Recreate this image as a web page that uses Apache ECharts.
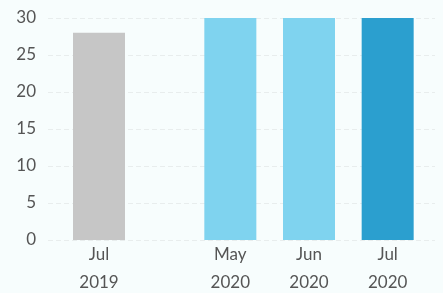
<!DOCTYPE html>
<html>
<head>
<meta charset="utf-8">
<script src="https://cdn.jsdelivr.net/npm/echarts@6/dist/echarts.min.js"></script>
<style>
  html, body { margin: 0; padding: 0; background: #f7fdfd; }
  #chart { width: 443px; height: 293px; }
</style>
</head>
<body>
<div id="chart"></div>
<script>
const lastYearMonths = ['Jul\n2019'];
const lastYearValues = [28];
const thisYearMonths = ['May\n2020', 'Jun\n2020', 'Jul\n2020'];
const thisYearValues = [30, 30, 30];
const yTicks = [0, 5, 10, 15, 20, 25, 30];

const thisYearColors = ['#7fd3ef', '#7fd3ef', '#2b9fcf'];

const chart = echarts.init(document.getElementById('chart'));

const labelStyle = {
  color: '#555',
  fontFamily: 'Lato',
  fontSize: 17,
  lineHeight: 28
};

const yBase = {
  type: 'value',
  min: yTicks[0],
  max: yTicks[yTicks.length - 1],
  interval: 5,
  axisLine: { show: false },
  axisTick: { show: false }
};

const xBase = {
  type: 'category',
  axisLine: { show: false },
  axisTick: { show: false },
  axisLabel: Object.assign({ margin: 1, interval: 0 }, labelStyle)
};

// same vertical extent for all three grids; v6 would otherwise shrink them to fit labels
const gridBox = { top: 18, bottom: 53, outerBoundsMode: 'none', containLabel: false };

const option = {
  backgroundColor: '#f7fdfd',
  animation: false,
  grid: [
    // gridlines + y labels across the whole plot
    Object.assign({ left: 48, right: 8 }, gridBox),
    // 2019 bar
    Object.assign({ left: 60, width: 78 }, gridBox),
    // 2020 bars
    Object.assign({ left: 191, width: 236 }, gridBox)
  ],
  xAxis: [
    { gridIndex: 0, type: 'category', data: [''], show: false },
    Object.assign({ gridIndex: 1, data: lastYearMonths }, xBase),
    Object.assign({ gridIndex: 2, data: thisYearMonths }, xBase)
  ],
  yAxis: [
    Object.assign({
      gridIndex: 0,
      axisLabel: Object.assign({ margin: 12 }, labelStyle),
      splitLine: { show: true, lineStyle: { color: '#e8eded', type: [5, 3], width: 1 } }
    }, yBase),
    Object.assign({ gridIndex: 1, show: false, splitLine: { show: false } }, yBase),
    Object.assign({ gridIndex: 2, show: false, splitLine: { show: false } }, yBase)
  ],
  series: [
    {
      type: 'bar',
      xAxisIndex: 1,
      yAxisIndex: 1,
      barWidth: 52,
      data: lastYearValues,
      itemStyle: { color: '#c6c6c6' }
    },
    {
      type: 'bar',
      xAxisIndex: 2,
      yAxisIndex: 2,
      barWidth: 52,
      data: thisYearValues.map((v, i) => ({ value: v, itemStyle: { color: thisYearColors[i] } }))
    }
  ]
};

chart.setOption(option);
</script>
</body>
</html>
